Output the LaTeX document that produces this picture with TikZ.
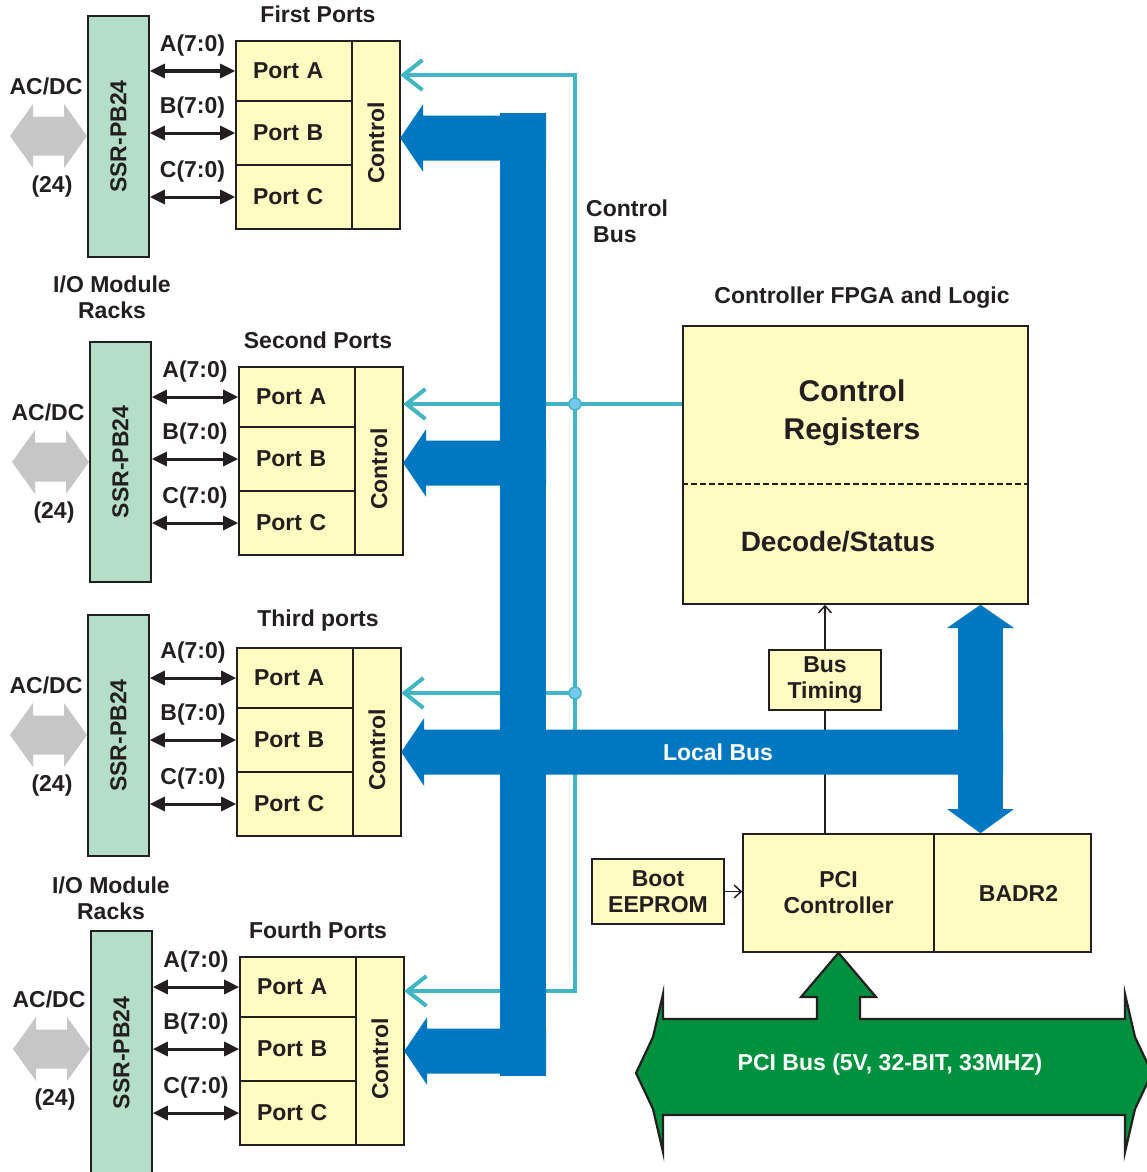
\documentclass[tikz,border=0pt]{standalone}
\usepackage{fontspec}
\setmainfont{Liberation Sans}
\usepackage{graphicx}
\usetikzlibrary{arrows.meta,calc}
\definecolor{ink}{HTML}{231F20}
\definecolor{cellyel}{HTML}{FFFBC1}
\definecolor{ssrgreen}{HTML}{B4DEC8}
\definecolor{busblue}{HTML}{0077C1}
\definecolor{cbus}{HTML}{40B5C4}
\definecolor{dotblue}{HTML}{75C8EC}
\definecolor{pcigreen}{HTML}{00913F}
\definecolor{acgray}{HTML}{C6C6C6}
\newcommand\fnt{\bfseries\fontsize{23pt}{26pt}\selectfont}
\begin{document}
\begin{tikzpicture}[x=1pt,y=-1pt,
  lbl/.style={font=\fnt, text=ink, inner sep=0pt, align=center},
  boxline/.style={draw=ink, line width=1.6pt},
  cell/.style={boxline, fill=cellyel, font=\fnt, text=ink, minimum width=116pt, inner xsep=17pt, inner ysep=0pt, text width=82pt, align=left},
  ctrl/.style={boxline, fill=cellyel, font=\fnt, text=ink, minimum width=48pt, minimum height=188pt, inner sep=0pt},
  ssr/.style={boxline, fill=ssrgreen, font=\fnt, text=ink, minimum width=61pt, inner sep=0pt},
  dbl/.style={draw=ink, line width=3pt, {Triangle[length=15pt,width=14pt]}-{Triangle[length=15pt,width=14pt]}},
  cline/.style={draw=cbus, line width=4pt},
  carrow/.style={cline, -{Straight Barb[length=19pt,width=30pt]}},
  bus/.style={fill=busblue},
  sarrow/.style={draw=ink, line width=1.5pt, -{Straight Barb[length=7pt,width=13pt]}},
  ybox/.style={boxline, fill=cellyel, font=\fnt, text=ink, align=center, inner sep=0pt},
]
\useasboundingbox (0,0) rectangle (1147,1172);
\clip (0,0) rectangle (1147,1172);

% ---- port blocks ----
\foreach \i/\sx/\sy/\sh/\px/\py/\gy/\ttl in {
  1/88/16/241/236/41/136/First Ports,
  2/90/342/240/239/367/462/Second Ports,
  3/88/615/241/237/648/735/Third ports,
  4/91/931/244/240/957/1049/Fourth Ports}{
  \node[ssr, minimum height=\sh pt] (ssr\i) at (\sx+30.5, \sy+\sh/2) {\rotatebox{90}{SSR-PB24}};
  \node[minimum width=164pt, minimum height=188pt, inner sep=0pt] (pb\i) at (\px+82, \py+94) {};
  \node[cell, minimum height=60pt] (pA\i) at (\px+58, \py+30) {Port A};
  \node[cell, minimum height=64pt] (pB\i) at (\px+58, \py+92) {Port B};
  \node[cell, minimum height=64pt] (pC\i) at (\px+58, \py+156) {Port C};
  \node[ctrl] (ct\i) at (\px+140, \py+94) {\rotatebox{90}{Control\hspace*{16pt}}};
  \node[lbl] (ti\i) at (318, \py-27) {\ttl};
  \draw[dbl] (ssr\i.east |- pA\i) -- node[lbl, yshift=25pt] {A(7:0)} (pA\i.west);
  \draw[dbl] (ssr\i.east |- pB\i) -- node[lbl, yshift=25pt] {B(7:0)} (pB\i.west);
  \draw[dbl] (ssr\i.east |- pC\i) -- node[lbl, yshift=25pt] {C(7:0)} (pC\i.west);
  \node[lbl] (ac\i) at (\sx-42, \gy-50) {AC/DC};
  \node[lbl] (nn\i) at (\sx-36, \gy+51) {(24)};
  \fill[acgray] (\sx-1,\gy) -- (\sx-24,\gy-32) -- (\sx-24,\gy-19.5) -- (\sx-55,\gy-19.5)
     -- (\sx-55,\gy-32) -- (\sx-78,\gy) -- (\sx-55,\gy+32) -- (\sx-55,\gy+19.5)
     -- (\sx-24,\gy+19.5) -- (\sx-24,\gy+32) -- cycle;
}
\node[lbl] (io1) at (112,297) {I/O Module\\Racks};
\node[lbl] (io2) at (111,898) {I/O Module\\Racks};

% ---- controller side ----
\node[ybox, minimum width=345pt, minimum height=278pt] (creg) at (855.5,465) {};
\draw[ink, line width=1.3pt, dash pattern=on 6pt off 3pt] (creg.west |- 0,484) -- (creg.east |- 0,484);
\node[font=\bfseries\fontsize{30pt}{38pt}\selectfont, text=ink, align=center, inner sep=0pt] (crt) at (852,413) {Control\\Registers};
\node[font=\bfseries\fontsize{28pt}{30pt}\selectfont, text=ink, inner sep=0pt] (dst) at (838,542) {Decode/Status};
\node[lbl] (fpga) at (862,298) {Controller FPGA and Logic};

\node[ybox, minimum width=112pt, minimum height=60pt] (bt) at (825,680) {Bus\\Timing};
\node[ybox, minimum width=132pt, minimum height=65pt] (boot) at (658,891.5) {Boot\\EEPROM};
\node[ybox, minimum width=191pt, minimum height=118pt] (pcic) at (838.5,893) {PCI\\Controller};
\node[ybox, minimum width=157pt, minimum height=118pt] (badr) at (1012.5,893) {\hspace*{12pt}BADR2};
\node[lbl, align=left, anchor=west] (cbl) at (586,221) {Control\\\hspace*{7pt}Bus};

\draw[draw=ink, line width=1.5pt] (bt.south) -- (bt.south |- pcic.north);
\draw[sarrow] (bt.north) -- (bt.north |- creg.south);
\draw[sarrow] (boot.east) -- (boot.east -| pcic.west);

% ---- control bus (cyan) ----
\coordinate (cb1) at (575,75);
\coordinate (j2) at (575,404);
\coordinate (j3) at (575,693);
\coordinate (cb4) at (575,991);
\draw[cline, line cap=rect] (cb1) -- (cb4);
\draw[carrow] (cb1) -- (cb1 -| pb1.east);
\draw[carrow] (j2 -| creg.west) -- (j2 -| pb2.east);
\draw[carrow] (j3) -- (j3 -| pb3.east);
\draw[carrow] (cb4) -- (cb4 -| pb4.east);

% ---- local bus (blue) ----
\fill[bus] (500,113) rectangle (546,1076);
\foreach \i/\by/\ex in {1/138/546,2/463/546,3/752/1003,4/1051/546}{
  \coordinate (t\i) at (pb\i.east |- 0,\by);
  \fill[bus] (t\i) -- ($(t\i)+(23,-34)$) -- ($(t\i)+(23,-22.5)$) -- (\ex,\by-22.5)
    -- (\ex,\by+22.5) -- ($(t\i)+(23,22.5)$) -- ($(t\i)+(23,34)$) -- cycle;
}
\fill[bus] (958,628) rectangle (1003,809);
\fill[bus] (creg.south -| 980.5,0) -- (1014,628) -- (947,628) -- cycle;
\fill[bus] (pcic.north -| 980.5,0) -- (1014,809) -- (947,809) -- cycle;
\node[lbl, text=white] (lb) at (718,752) {Local Bus};

\filldraw[fill=dotblue, draw=cbus, line width=1.5pt] (j2) circle[radius=6pt];
\filldraw[fill=dotblue, draw=cbus, line width=1.5pt] (j3) circle[radius=6pt];

% ---- PCI bus (green) ----
\filldraw[fill=pcigreen, draw=ink, line width=2.2pt, line join=miter]
  (pcic.south) -- (876,997) -- (860,997) -- (860,1019) -- (1125,1019) -- (1125,994)
  -- (1135,1037) -- (1152,1073) -- (1135,1109) -- (1125,1152) -- (1125,1115)
  -- (663,1115) -- (663,1152) -- (653,1109) -- (636,1073) -- (653,1037) -- (663,994)
  -- (663,1019) -- (817,1019) -- (817,997) -- (801,997) -- cycle;
\node[lbl, text=white] (pcib) at (890,1065) {PCI Bus (5V, 32-BIT, 33MHZ)};
\end{tikzpicture}
\end{document}
